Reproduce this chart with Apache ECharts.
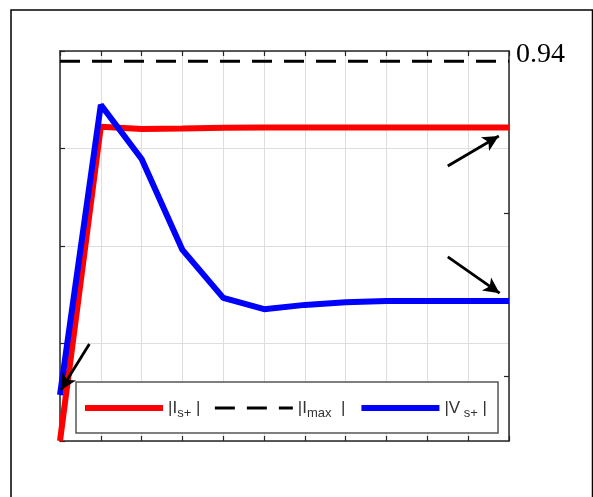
<!DOCTYPE html>
<html>
<head>
<meta charset="utf-8">
<script src="https://cdn.jsdelivr.net/npm/echarts@6/dist/echarts.min.js"></script>
<style>html,body{margin:0;padding:0;background:#fff;}#c{width:593px;height:497px;}</style>
</head>
<body>
<div id="c"></div>
<script>
// ---- data ----
const xValues = [0, 1, 2, 3, 4, 5, 6, 7, 8, 9, 10, 11];
const iS   = [0, 0.806, 0.800, 0.801, 0.803, 0.804, 0.804, 0.804, 0.804, 0.804, 0.804, 0.804];
const iMax = [0.974, 0.974, 0.974, 0.974, 0.974, 0.974, 0.974, 0.974, 0.974, 0.974, 0.974, 0.974];
const vS   = [0.118, 0.862, 0.723, 0.490, 0.367, 0.338, 0.349, 0.356, 0.359, 0.359, 0.359, 0.359];
const seriesNames = ['Is', 'Imax', 'Vs'];
const legendMain = ['|I', '|I', '|V'];
const legendSub = ['s+', 'max', ' s+'];
const legendTail = [' |', '  |', ' |'];
const rightTickValues = [0.1667, 0.5846];
const rightLabelValues = [1];
const rightLabelText = ['0.94'];
// annotation arrows [x1, y1, x2, y2] in data units
const arrows = [
  [9.50, 0.705, 10.75, 0.782],
  [9.50, 0.472, 10.77, 0.379],
  [0.72, 0.249, 0.02, 0.131]
];

const pair = (xs, ys) => xs.map((x, i) => [x, ys[i]]);
const axisColor = '#262626';
const gridColor = '#dedede';

const chart = echarts.init(document.getElementById('c'), null, {renderer: 'canvas'});
chart.setOption({
  animation: false,
  backgroundColor: '#fff',
  graphic: [{
    type: 'rect', shape: {x: 11, y: 10, width: 581.5, height: 520},
    style: {fill: 'none', stroke: '#000', lineWidth: 1.5}, silent: true, z: -1
  }],
  grid: {left: 60, top: 51, right: 84, bottom: 56, containLabel: false},
  xAxis: [{
    type: 'value', min: 0, max: 11, interval: 1, position: 'bottom',
    axisLine: {show: true, onZero: false, lineStyle: {color: axisColor, width: 1.5}},
    axisTick: {show: true, inside: true, length: 5, lineStyle: {color: axisColor, width: 1.2}},
    axisLabel: {show: false},
    splitLine: {show: true, lineStyle: {color: gridColor, width: 1}}
  }, {
    type: 'value', min: 0, max: 11, interval: 1, position: 'top',
    axisLine: {show: true, onZero: false, lineStyle: {color: axisColor, width: 1.5}},
    axisTick: {show: true, inside: true, length: 5, lineStyle: {color: axisColor, width: 1.2}},
    axisLabel: {show: false},
    splitLine: {show: false}
  }],
  yAxis: [{
    type: 'value', min: 0, max: 1, interval: 0.25, position: 'left',
    axisLine: {show: true, onZero: false, lineStyle: {color: axisColor, width: 1.5}},
    axisTick: {show: true, inside: true, length: 5, lineStyle: {color: axisColor, width: 1.2}},
    axisLabel: {show: false},
    splitLine: {show: true, lineStyle: {color: gridColor, width: 1}}
  }, {
    type: 'value', min: 0, max: 1, position: 'right',
    axisLine: {show: true, onZero: false, lineStyle: {color: axisColor, width: 1.5}},
    axisTick: {show: true, inside: true, length: 5, customValues: rightTickValues, lineStyle: {color: axisColor, width: 1.2}},
    axisLabel: {show: true, customValues: rightLabelValues, margin: 7,
      formatter: (v) => {
        const k = rightLabelValues.indexOf(v);
        return k >= 0 ? '{n|' + rightLabelText[k] + '}' : '';
      },
      rich: {n: {fontFamily: 'Liberation Serif', fontSize: 28, color: '#000', padding: [7, 0, 0, 0]}},
      fontFamily: 'Liberation Serif', fontSize: 28, color: '#000'},
    splitLine: {show: false}
  }],
  legend: {
    show: true, orient: 'horizontal',
    left: 76, top: 382,
    data: seriesNames,
    itemWidth: 78, itemHeight: 14, itemGap: 13,
    padding: [13, 11, 13, 6],
    borderColor: '#555', borderWidth: 1.5, backgroundColor: '#fff',
    lineStyle: {width: 'inherit'},
    itemStyle: {opacity: 0},
    formatter: (name) => {
      const i = seriesNames.indexOf(name);
      return '{t|' + legendMain[i] + '}{s|' + legendSub[i] + '}{t|' + legendTail[i] + '}';
    },
    textStyle: {
      rich: {
        t: {fontFamily: 'Liberation Sans', fontSize: 17, color: '#333', verticalAlign: 'middle', lineHeight: 24},
        s: {fontFamily: 'Liberation Sans', fontSize: 13, color: '#333', verticalAlign: 'bottom', lineHeight: 24, padding: [12, 0, 0, 0]}
      }
    }
  },
  series: [{
    name: seriesNames[0], type: 'line', data: pair(xValues, iS),
    symbol: 'none', showSymbol: false,
    lineStyle: {color: '#ff0000', width: 6}, itemStyle: {color: '#ff0000'}, z: 2
  }, {
    name: seriesNames[1], type: 'line', data: pair(xValues, iMax),
    symbol: 'none', showSymbol: false,
    lineStyle: {color: '#000', width: 3, type: [20, 12]}, itemStyle: {color: '#000'}, z: 2,
    markLine: {
      silent: true, animation: false,
      symbol: ['none', 'arrow'], symbolSize: [12, 16],
      label: {show: false},
      lineStyle: {color: '#000', width: 2.8, type: 'solid'},
      data: arrows.map(a => [{coord: [a[0], a[1]]}, {coord: [a[2], a[3]]}])
    }
  }, {
    name: seriesNames[2], type: 'line', data: pair(xValues, vS),
    symbol: 'none', showSymbol: false,
    lineStyle: {color: '#0000ff', width: 6}, itemStyle: {color: '#0000ff'}, z: 3
  }]
});
</script>
</body>
</html>
